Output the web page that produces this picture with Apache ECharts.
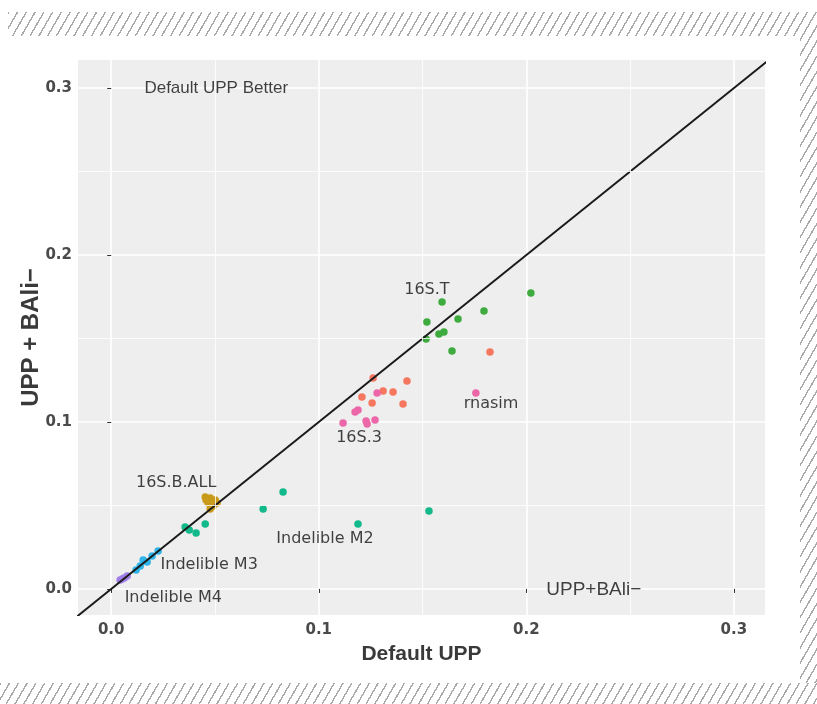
<!DOCTYPE html>
<html>
<head>
<meta charset="utf-8">
<script src="https://cdn.jsdelivr.net/npm/echarts@6/dist/echarts.min.js"></script>
<style>
html,body{margin:0;padding:0;background:#fff;width:817px;height:704px;overflow:hidden;position:relative;}
.hatch{position:absolute;background:repeating-linear-gradient(120deg,#a9a9a9 0px,#a9a9a9 1.4px,#ffffff 1.4px,#ffffff 7.6px);}
#card{position:absolute;left:0;top:36px;width:800px;height:647px;background:#fff;}
#chart{position:absolute;left:0;top:0;width:817px;height:704px;}
</style>
</head>
<body>
<div class="hatch" style="left:8px;top:12px;width:809px;height:692px;"></div>
<div class="hatch" style="left:0px;top:683px;width:817px;height:21px;"></div>
<div id="card"></div>
<div id="chart"></div>
<script>
// ---- data ----
const tickValues = [0, 0.1, 0.2, 0.3];
const tickLabels = ['0.0', '0.1', '0.2', '0.3'];
const minorValues = [0.05, 0.15, 0.25];

const groupNames = ['16S.3', '16S.B.ALL', '16S.T', 'Indelible M2', 'Indelible M3', 'Indelible M4', 'rnasim'];

const s16S3 = [[0.1262,0.1263],[0.1425,0.1246],[0.1310,0.1186],[0.1358,0.1180],[0.1208,0.1150],[0.1257,0.1114],[0.1406,0.1108],[0.1825,0.1419]];
const s16SBALL = [[0.0453,0.0551],[0.0477,0.0545],[0.0501,0.0533],[0.0467,0.0515],[0.0491,0.0497],[0.0510,0.0515],[0.0477,0.0479],[0.0457,0.0533]];
const s16ST = [[0.1594,0.1719],[0.1521,0.1599],[0.1671,0.1617],[0.1796,0.1665],[0.2022,0.1772],[0.1517,0.1497],[0.1579,0.1527],[0.1603,0.1539],[0.1642,0.1425]];
const sM2 = [[0.0828,0.0581],[0.0732,0.0479],[0.1189,0.0389],[0.1531,0.0467],[0.0356,0.0371],[0.0409,0.0335],[0.0453,0.0389],[0.0376,0.0353]];
const sM3 = [[0.0120,0.0114],[0.0140,0.0138],[0.0154,0.0174],[0.0173,0.0162],[0.0197,0.0198],[0.0226,0.0228]];
const sM4 = [[0.0043,0.0054],[0.0063,0.0066],[0.0077,0.0078],[0.0053,0.0060]];
const sRnasim = [[0.1281,0.1174],[0.1175,0.1060],[0.1189,0.1072],[0.1117,0.0994],[0.1228,0.1006],[0.1233,0.0988],[0.1271,0.1012],[0.1757,0.1174]];

const groupData = [s16S3, s16SBALL, s16ST, sM2, sM3, sM4, sRnasim];
const groupColors = ['#F5775F', '#C99A1A', '#3EAB3E', '#12B98A', '#2FB3E8', '#A07FE8', '#EC67A8'];

// text annotations: [text, x, y]
const groupLabels = [
  ['16S.T', 0.1521, 0.1790],
  ['rnasim', 0.1830, 0.1108],
  ['16S.3', 0.1194, 0.0904],
  ['16S.B.ALL', 0.0313, 0.0635],
  ['Indelible M2', 0.1030, 0.0299],
  ['Indelible M3', 0.0472, 0.0144],
  ['Indelible M4', 0.0299, -0.0054]
];
const cornerLabelA = ['Default UPP Better', 0.0506, 0.3000];
const cornerLabelB = ['UPP+BAli\u2212', 0.2325, -0.0006];
const diagonal = [[-0.02, -0.02], [0.32, 0.32]];

// ---- chart ----
const chart = echarts.init(document.getElementById('chart'), null, {renderer: 'canvas'});

const tickLabelStyle = {
  customValues: tickValues,
  formatter: function (v) { const i = tickValues.findIndex(t => Math.abs(t - v) < 1e-9); return i >= 0 ? tickLabels[i] : ''; },
  color: '#4a4a4a', fontFamily: 'DejaVu Sans', fontWeight: 'bold', fontSize: 15
};

function textSeries(items, font, size) {
  return {
    type: 'scatter', symbolSize: 1, z: 5, silent: true,
    itemStyle: {color: 'rgba(0,0,0,0)'},
    data: items.map(d => ({value: [d[1], d[2]], name: d[0]})),
    label: {show: true, position: 'inside', formatter: p => p.name, color: '#111111', fontFamily: font, fontSize: size}
  };
}

const series = [];
series.push({
  type: 'scatter', data: [], silent: true, z: 1,
  markLine: {
    silent: true, symbol: 'none', label: {show: false},
    lineStyle: {color: '#ffffff', width: 0.8, type: 'solid'},
    data: minorValues.map(v => ({xAxis: v})).concat(minorValues.map(v => ({yAxis: v})))
  }
});
groupNames.forEach((n, i) => {
  series.push({
    name: n, type: 'scatter', data: groupData[i], symbolSize: 7.5, z: 3,
    itemStyle: {color: groupColors[i], opacity: 1}
  });
});
series.push({
  type: 'line', data: diagonal, symbol: 'none', z: 4, silent: true,
  lineStyle: {color: '#1a1a1a', width: 2}
});
series.push(textSeries(groupLabels, 'DejaVu Sans', 16));
series.push(textSeries([cornerLabelA], 'Liberation Sans', 17));
series.push(textSeries([cornerLabelB], 'Liberation Sans', 19));

chart.setOption({
  backgroundColor: 'transparent',
  animation: false,
  grid: {left: 78, right: 52, top: 60, bottom: 89, show: true, backgroundColor: '#eeeeee', borderWidth: 0},
  xAxis: {
    type: 'value', min: -0.016, max: 0.315,
    name: 'Default UPP', nameLocation: 'middle', nameGap: 29, nameMoveOverlap: false,
    nameTextStyle: {color: '#3a3a3a', fontFamily: 'Liberation Sans', fontWeight: 'bold', fontSize: 21},
    axisLine: {show: false},
    axisTick: {show: true, customValues: tickValues, length: 4, lineStyle: {color: '#333333', width: 1}},
    axisLabel: Object.assign({margin: 8}, tickLabelStyle),
    splitLine: {show: true, lineStyle: {color: '#ffffff', width: 1.6}}
  },
  yAxis: {
    type: 'value', min: -0.0156, max: 0.3168,
    name: 'UPP + BAli\u2212', nameLocation: 'middle', nameGap: 35, nameMoveOverlap: false,
    nameTextStyle: {color: '#3a3a3a', fontFamily: 'Liberation Sans', fontWeight: 'bold', fontSize: 24},
    axisLine: {show: false},
    axisTick: {show: true, customValues: tickValues, length: 4, lineStyle: {color: '#333333', width: 1}},
    axisLabel: Object.assign({margin: 6}, tickLabelStyle),
    splitLine: {show: true, lineStyle: {color: '#ffffff', width: 1.6}}
  },
  series: series
});
</script>
</body>
</html>
